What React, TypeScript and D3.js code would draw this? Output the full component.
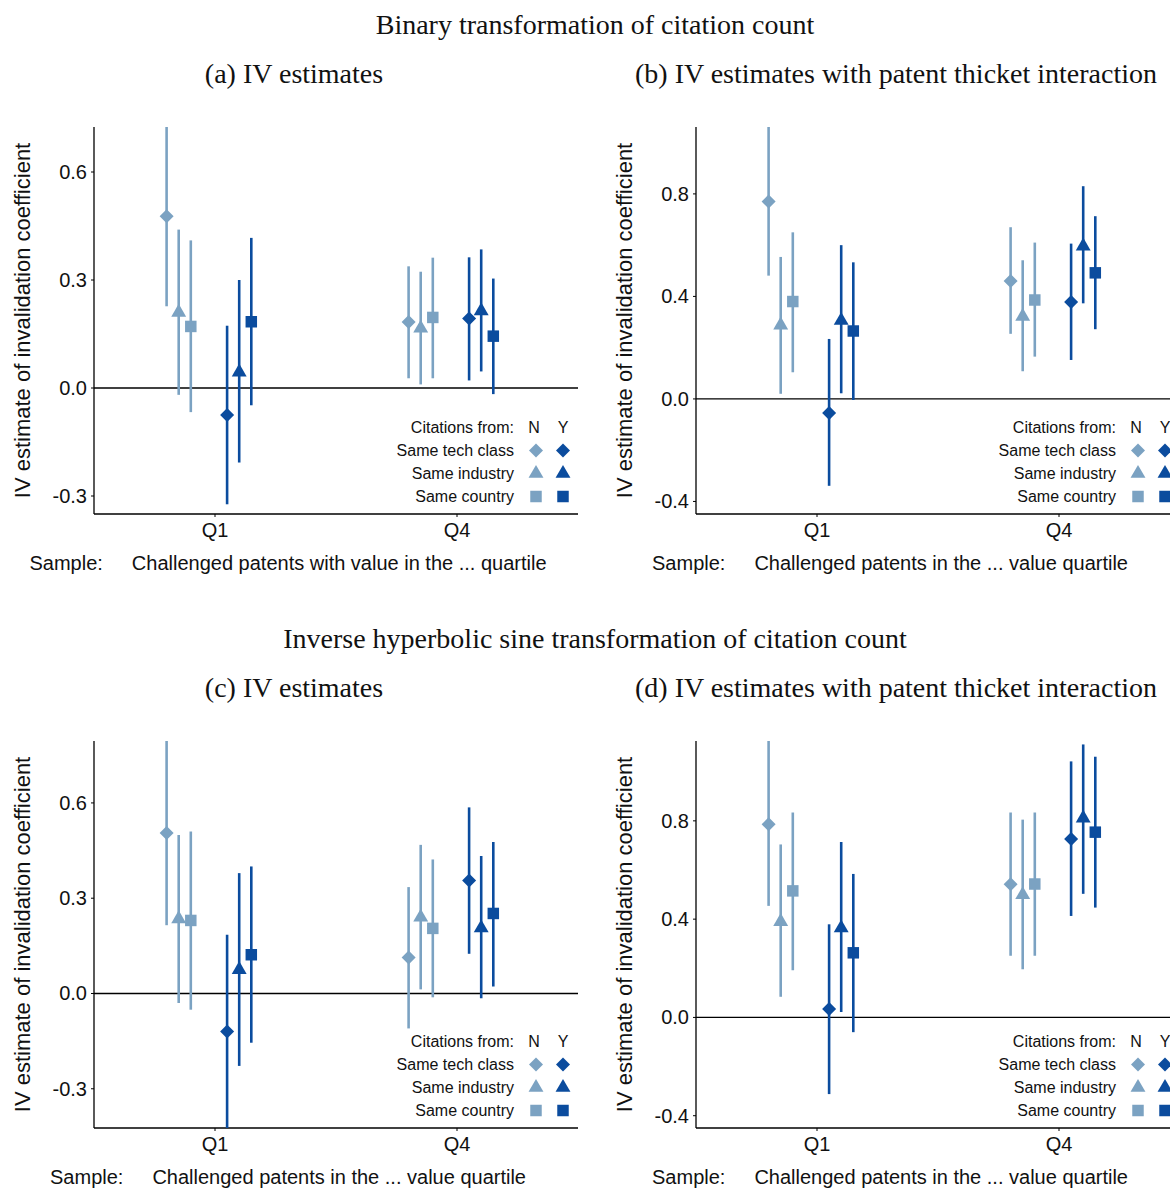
import React from "react";
import * as d3 from "d3";

// ---------- data ----------
const sectionTitles = [
  "Binary transformation of citation count",
  "Inverse hyperbolic sine transformation of citation count",
];
const panelTitles = [
  "(a) IV estimates",
  "(b) IV estimates with patent thicket interaction",
  "(c) IV estimates",
  "(d) IV estimates with patent thicket interaction",
];
const xTitlePrefix = "Sample:";
const xTitles = [
  "Challenged patents with value in the ... quartile",
  "Challenged patents in the ... value quartile",
  "Challenged patents in the ... value quartile",
  "Challenged patents in the ... value quartile",
];
const yTitle = "IV estimate of invalidation coefficient";
const quartiles = ["Q1", "Q4"];
const legendHeader = "Citations from:";
const legendCols = ["N", "Y"];
const legendRows = ["Same tech class", "Same industry", "Same country"];
// series order within each quartile: techN, indN, ctyN, techY, indY, ctyY
const seriesShape = ["diamond", "triangle", "square", "diamond", "triangle", "square"];
const seriesGroup = ["N", "N", "N", "Y", "Y", "Y"];

const yTicksA = [-0.3, 0, 0.3, 0.6];
const yTicksB = [-0.4, 0, 0.4, 0.8];
const yTicksC = [-0.3, 0, 0.3, 0.6];
const yTicksD = [-0.4, 0, 0.4, 0.8];
const yDomainA = [-0.35, 0.725];
const yDomainB = [-0.449, 1.061];
const yDomainC = [-0.4235, 0.795];
const yDomainD = [-0.45, 1.125];

// panel (a)
const estA = [0.477, 0.21, 0.171, -0.075, 0.044, 0.184, 0.183, 0.166, 0.196, 0.193, 0.214, 0.144];
const loA = [0.227, -0.019, -0.067, -0.323, -0.207, -0.048, 0.027, 0.01, 0.027, 0.021, 0.046, -0.017];
const hiA = [0.76, 0.44, 0.41, 0.173, 0.3, 0.417, 0.338, 0.323, 0.362, 0.363, 0.385, 0.304];
// panel (b)
const estB = [0.77, 0.288, 0.38, -0.055, 0.306, 0.265, 0.46, 0.322, 0.386, 0.378, 0.596, 0.492];
const loB = [0.481, 0.02, 0.104, -0.339, 0.022, -0.004, 0.254, 0.108, 0.165, 0.152, 0.373, 0.272];
const hiB = [1.1, 0.554, 0.65, 0.234, 0.6, 0.533, 0.67, 0.541, 0.61, 0.606, 0.83, 0.713];
// panel (c)
const estC = [0.505, 0.235, 0.23, -0.12, 0.075, 0.122, 0.113, 0.24, 0.205, 0.356, 0.206, 0.252];
const loC = [0.215, -0.03, -0.051, -0.45, -0.228, -0.155, -0.11, 0.013, -0.012, 0.125, -0.015, 0.022];
const hiC = [0.83, 0.499, 0.51, 0.185, 0.379, 0.4, 0.335, 0.468, 0.422, 0.586, 0.433, 0.477];
// panel (d)
const estD = [0.786, 0.39, 0.515, 0.034, 0.364, 0.263, 0.542, 0.499, 0.543, 0.726, 0.811, 0.754];
const loD = [0.454, 0.084, 0.192, -0.312, 0.022, -0.06, 0.251, 0.196, 0.251, 0.413, 0.503, 0.447];
const hiD = [1.15, 0.704, 0.834, 0.379, 0.714, 0.584, 0.834, 0.805, 0.834, 1.042, 1.111, 1.061];

// ---------- layout / style ----------
const W = 1170;
const H = 1188;
const LIGHT = "#7ba2c2";
const DARK = "#0b4c9e";
const SANS = "'Liberation Sans', Arial, Helvetica, sans-serif";
const SERIF = "'Liberation Serif', 'Times New Roman', serif";
const PL = 94, PR = 578, PT = 127, PB = 514;
const seriesOffset = [-0.4, -0.3, -0.2, 0.1, 0.2, 0.3];
const quartilePos = [1, 3];

const panels = [
  { ox: 0, oy: 0, est: estA, lo: loA, hi: hiA, ticks: yTicksA, dom: yDomainA },
  { ox: 602, oy: 0, est: estB, lo: loB, hi: hiB, ticks: yTicksB, dom: yDomainB },
  { ox: 0, oy: 614, est: estC, lo: loC, hi: hiC, ticks: yTicksC, dom: yDomainC },
  { ox: 602, oy: 614, est: estD, lo: loD, hi: hiD, ticks: yTicksD, dom: yDomainD },
];

const fmt = (v: number) => d3.format(".1f")(v).replace("\u2212", "-");

function symbolPath(shape: string) {
  if (shape === "diamond") return d3.symbol(d3.symbolSquare, 98)() as string;
  if (shape === "triangle") return d3.symbol(d3.symbolTriangle, 96)() as string;
  return d3.symbol(d3.symbolSquare, 132)() as string;
}

function Marker({ shape, x, y, color }: { shape: string; x: number; y: number; color: string }) {
  const rot = shape === "diamond" ? " rotate(45)" : "";
  return <path d={symbolPath(shape)} transform={`translate(${x},${y})${rot}`} fill={color} />;
}

function Panel({ idx }: { idx: number }) {
  const p = panels[idx];
  const x = d3.scaleLinear().domain([0, 4]).range([PL, PR]);
  const y = d3.scaleLinear().domain(p.dom).range([PB, PT]);
  const clipId = `clip${idx}`;
  const points: any[] = [];
  quartiles.forEach((q, qi) => {
    seriesShape.forEach((s, si) => {
      const k = qi * 6 + si;
      points.push({
        x: x(quartilePos[qi] + seriesOffset[si]),
        est: y(p.est[k]),
        lo: y(p.lo[k]),
        hi: y(p.hi[k]),
        shape: s,
        color: seriesGroup[si] === "N" ? LIGHT : DARK,
      });
    });
  });
  const xCenter = 288;
  return (
    <g transform={`translate(${p.ox},${p.oy})`}>
      <defs>
        <clipPath id={clipId}>
          <rect x={PL} y={PT} width={PR - PL} height={PB - PT} />
        </clipPath>
      </defs>
      {/* subtitle */}
      <text x={294} y={83} textAnchor="middle" fontFamily={SERIF} fontSize={28} fill="#111">
        {panelTitles[idx]}
      </text>
      {/* zero line */}
      <line x1={PL} x2={PR} y1={y(0)} y2={y(0)} stroke="#000" strokeWidth={1.3} />
      {/* axes */}
      <line x1={PL} x2={PL} y1={PT} y2={PB} stroke="#000" strokeWidth={1.3} />
      <line x1={PL} x2={PR} y1={PB} y2={PB} stroke="#000" strokeWidth={1.3} />
      {p.ticks.map((t) => (
        <g key={t}>
          <line x1={PL - 3} x2={PL} y1={y(t)} y2={y(t)} stroke="#000" strokeWidth={1} />
          <text x={87} y={y(t) + 7} textAnchor="end" fontFamily={SANS} fontSize={20} fill="#111">
            {fmt(t)}
          </text>
        </g>
      ))}
      {quartiles.map((q, qi) => (
        <g key={q}>
          <line x1={x(quartilePos[qi])} x2={x(quartilePos[qi])} y1={PB} y2={PB + 3} stroke="#000" strokeWidth={1} />
          <text x={x(quartilePos[qi])} y={537} textAnchor="middle" fontFamily={SANS} fontSize={20} fill="#111">
            {q}
          </text>
        </g>
      ))}
      {/* y title */}
      <text
        transform={`translate(30,${(PT + PB) / 2}) rotate(-90)`}
        textAnchor="middle"
        fontFamily={SANS}
        fontSize={22}
        fill="#111"
      >
        {yTitle}
      </text>
      {/* x title */}
      <text x={xCenter} y={570} textAnchor="middle" fontFamily={SANS} fontSize={20} fill="#111">
        <tspan>{xTitlePrefix}</tspan>
        <tspan dx={29}>{xTitles[idx]}</tspan>
      </text>
      {/* error bars */}
      <g clipPath={`url(#${clipId})`}>
        {points.map((d, i) => (
          <line key={i} x1={d.x} x2={d.x} y1={d.lo} y2={d.hi} stroke={d.color} strokeWidth={2.6} />
        ))}
      </g>
      {points.map((d, i) => (
        <Marker key={i} shape={d.shape} x={d.x} y={d.est} color={d.color} />
      ))}
      {/* legend */}
      <g fontFamily={SANS} fontSize={16} fill="#111">
        <text x={514} y={433} textAnchor="end">{legendHeader}</text>
        <text x={534} y={433} textAnchor="middle">{legendCols[0]}</text>
        <text x={563} y={433} textAnchor="middle">{legendCols[1]}</text>
        {legendRows.map((r, ri) => (
          <g key={r}>
            <text x={514} y={456 + ri * 23} textAnchor="end">{r}</text>
            <Marker shape={seriesShape[ri]} x={536} y={450.5 + ri * 23} color={LIGHT} />
            <Marker shape={seriesShape[ri + 3]} x={563} y={450.5 + ri * 23} color={DARK} />
          </g>
        ))}
      </g>
    </g>
  );
}

export default function App() {
  return (
    <svg
      width={W}
      height={H}
      style={{ position: "absolute", left: 0, top: 0, background: "#fff" }}
    >
      <rect width={W} height={H} fill="#fff" />
      <text x={595} y={34} textAnchor="middle" fontFamily={SERIF} fontSize={28} fill="#111">
        {sectionTitles[0]}
      </text>
      <text x={595} y={648} textAnchor="middle" fontFamily={SERIF} fontSize={28} fill="#111">
        {sectionTitles[1]}
      </text>
      {panels.map((_, i) => (
        <Panel key={i} idx={i} />
      ))}
    </svg>
  );
}
